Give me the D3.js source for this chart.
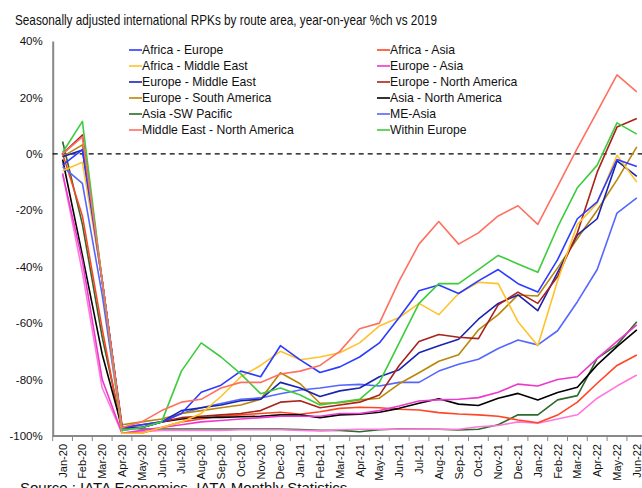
<!DOCTYPE html>
<html>
<head>
<meta charset="utf-8">
<script src="https://cdn.jsdelivr.net/npm/d3@7"></script>
<style>
  body { margin: 0; background: #fff; }
  text { font-family: "Liberation Sans", Arial, sans-serif; fill: #111; }
</style>
</head>
<body>
<div id="chart"></div>
<script>
const months = ["Jan-20", "Feb-20", "Mar-20", "Apr-20", "May-20", "Jun-20", "Jul-20", "Aug-20", "Sep-20", "Oct-20", "Nov-20", "Dec-20",
    "Jan-21", "Feb-21", "Mar-21", "Apr-21", "May-21", "Jun-21", "Jul-21", "Aug-21", "Sep-21", "Oct-21", "Nov-21", "Dec-21",
    "Jan-22", "Feb-22", "Mar-22", "Apr-22", "May-22", "Jun-22"];

const yTicks = [40, 20, 0, -20, -40, -60, -80, -100];

// values, %ch vs 2019
const africaEurope = [-4, 1.5, -45, -97, -96, -95, -92, -84.5, -82, -77, -79, -68, -73, -77.5, -75.5, -72, -67, -58, -48.5, -46.5, -49.5, -45, -41, -46, -49, -37.5, -23, -17, -2, -4.5];
const africaAsia = [0, -22, -62, -99, -99, -97, -95, -94, -93, -92.5, -92, -91.6, -92.3, -91.4, -90.2, -89.8, -90, -90.5, -90.8, -91.7, -92.2, -92.5, -93, -94.3, -95.3, -92.6, -88, -81.3, -75, -71.3];
const africaMiddleEast = [-6, -3, -45, -99, -99, -97, -95, -92, -86, -79, -75, -70, -73, -72, -70.5, -67, -61, -58, -53, -57, -49.5, -45.5, -46, -59.5, -68, -45, -25, -17.5, -0.5, -10];
const europeAsia = [-7, -38, -80, -99, -98, -97, -96, -95, -94.5, -94, -93.5, -93, -93, -93, -92, -92, -91, -89.4, -87.6, -87.2, -87, -86.4, -84.5, -81.6, -82.3, -80, -79, -72.5, -66.5, -60.6];
const europeMiddleEast = [-1, 1.4, -45, -97, -97, -95, -91, -90, -89, -87.5, -87, -81, -83, -86, -84, -83, -79, -76.5, -70.5, -68, -65.7, -58.6, -53, -50, -55.6, -42, -28.7, -23, -2.5, -8];
const europeNorthAmerica = [0, 6.7, -45, -97, -96, -95, -93.5, -93, -92.5, -92, -91, -88, -87.5, -90, -89, -88, -85.5, -75, -66.5, -64, -65, -65.5, -53.5, -49, -53, -43.5, -28, -6.5, 9.5, 12.5];
const europeSouthAmerica = [-1, 3.2, -45, -96, -95, -94, -92, -91, -90, -89, -87, -77.6, -81.5, -88.4, -88.2, -87.2, -86.6, -81.5, -77.6, -73.5, -71.2, -62.4, -57, -50, -50.4, -40.4, -30, -20, -9.2, 2.5];
const asiaNorthAmerica = [-2, -36, -71, -97, -97, -95, -94, -93.4, -93.4, -93.2, -93, -92.5, -92.5, -93.5, -92.5, -92.3, -91.6, -90.2, -88.4, -86.8, -88.7, -89.2, -86.6, -84.9, -87.2, -84.6, -82.7, -74.8, -68.3, -62.4];
const asiaSwPacific = [4.4, -25, -65, -97, -97.5, -97.5, -97.5, -97.5, -97.5, -97.5, -97.5, -97.5, -97.7, -98, -98, -98.5, -97.8, -97.5, -97.5, -97.6, -97.9, -97.6, -96, -92.5, -92.5, -87.2, -85.7, -72.5, -67.7, -59.5];
const meAsia = [-4.5, -10.5, -50, -98, -97, -95, -92, -90, -88.5, -87, -86.5, -85, -83.7, -83, -82, -81.7, -82.3, -81, -81, -77, -74.6, -72.8, -69, -66, -67.7, -62.7, -52.4, -41, -21, -15.6];
const middleEastNorthAmerica = [0, 6, -45, -97, -95, -91, -88, -87, -83, -81, -81, -78, -77, -75, -70, -62, -60, -45, -32, -24, -32, -28, -22, -18.4, -25, -11.5, 2, 15, 28, 22];
const withinEurope = [0.5, 11.5, -45, -98, -97, -95, -77, -67, -72, -78, -85, -83, -85.5, -89, -88, -87, -81, -67, -53, -46, -46, -41, -36, -39, -42, -26, -12, -4, 11, 7];
// pink series drawn in the chart but missing from the legend
const withinAsia = [-7, -42, -83, -99, -98.5, -98, -98, -98, -98, -97.8, -97.8, -97.8, -98, -98.2, -97.8, -97.6, -97.6, -97.6, -97.5, -97.6, -97.6, -96.7, -96.3, -95, -95.5, -94, -92.5, -86.6, -82.3, -78.4];

const series = [
    { name: "Asia -SW Pacific", color: "#2d6a2d", values: asiaSwPacific },
    { name: "Within Asia", color: "#ff78dc", values: withinAsia },
    { name: "Africa - Asia", color: "#ff4524", values: africaAsia },
    { name: "Asia - North America", color: "#000000", values: asiaNorthAmerica },
    { name: "Europe - Asia", color: "#ee38cc", values: europeAsia },
    { name: "ME-Asia", color: "#5566ff", values: meAsia },
    { name: "Europe - South America", color: "#b8860b", values: europeSouthAmerica },
    { name: "Europe - Middle East", color: "#1a22b0", values: europeMiddleEast },
    { name: "Europe - North America", color: "#a8231a", values: europeNorthAmerica },
    { name: "Africa - Middle East", color: "#ffc22a", values: africaMiddleEast },
    { name: "Africa - Europe", color: "#2b3bff", values: africaEurope },
    { name: "Within Europe", color: "#3dcc3d", values: withinEurope },
    { name: "Middle East - North America", color: "#ff7060", values: middleEastNorthAmerica }
];

const legendLeft = ["Africa - Europe", "Africa - Middle East", "Europe - Middle East", "Europe - South America", "Asia -SW Pacific", "Middle East - North America"];
const legendRight = ["Africa - Asia", "Europe - Asia", "Europe - North America", "Asia - North America", "ME-Asia", "Within Europe"];

const width = 642;
const height = 488;
const plotLeft = 52.7;
const plotRight = 646.7;
const plotTop = 41;
const plotBottom = 436;

const svg = d3.select("#chart")
    .append("svg")
    .attr("width", width)
    .attr("height", height);

const x = d3.scaleBand()
    .domain(months)
    .range([plotLeft, plotRight]);

const y = d3.scaleLinear()
    .domain([-100, 40])
    .range([plotBottom, plotTop]);

const px = m => x(m) + x.bandwidth() / 2;

// the title font is narrower than Liberation Sans, so squeeze it to the same width
svg.append("text")
    .attr("x", 15)
    .attr("y", 25)
    .attr("textLength", 422)
    .attr("lengthAdjust", "spacingAndGlyphs")
    .style("font-size", "15px")
    .text("Seasonally adjusted international RPKs by route area, year-on-year %ch vs 2019");

// y axis: line + labels, no tick marks
const yAxis = svg.append("g")
    .attr("transform", "translate(" + plotLeft + ",0)")
    .call(d3.axisLeft(y).tickValues(yTicks).tickSize(0).tickPadding(10).tickFormat(d => d + "%"));
yAxis.select(".domain").attr("stroke", "#888").attr("stroke-width", 2);
yAxis.selectAll("text").style("font-size", "11.5px").style("font-family", "Liberation Sans, Arial, sans-serif").attr("fill", "#111");

// x axis with ticks between the categories
const xAxis = svg.append("g")
    .attr("transform", "translate(0," + plotBottom + ")");
xAxis.append("line")
    .attr("x1", plotLeft)
    .attr("x2", width)
    .attr("stroke", "#888")
    .attr("stroke-width", 2);
xAxis.selectAll("line.tick")
    .data(months)
    .enter()
    .append("line")
    .attr("class", "tick")
    .attr("x1", d => x(d))
    .attr("x2", d => x(d))
    .attr("y1", 0)
    .attr("y2", 5)
    .attr("stroke", "#888");
xAxis.selectAll("text")
    .data(months)
    .enter()
    .append("text")
    .attr("transform", d => "translate(" + (px(d) + 4) + ",8) rotate(-90)")
    .attr("text-anchor", "end")
    .style("font-size", "11px")
    .text(d => d);

// zero line
svg.append("line")
    .attr("x1", plotLeft)
    .attr("x2", width)
    .attr("y1", y(0))
    .attr("y2", y(0))
    .attr("stroke", "#000")
    .attr("stroke-width", 1.3)
    .attr("stroke-dasharray", "5,4");

const line = d3.line()
    .x((d, i) => px(months[i]))
    .y(d => y(d));

svg.append("g")
    .selectAll("path")
    .data(series)
    .enter()
    .append("path")
    .attr("d", d => line(d.values))
    .attr("fill", "none")
    .attr("stroke", d => d.color)
    .attr("stroke-width", 1.6)
    .attr("stroke-linejoin", "round");

const colorOf = name => series.find(s => s.name === name).color;

const drawLegend = (names, lx) => {
    const g = svg.append("g");
    names.forEach((name, i) => {
        const ly = 50 + i * 16;
        g.append("line")
            .attr("x1", lx)
            .attr("x2", lx + 13)
            .attr("y1", ly)
            .attr("y2", ly)
            .attr("stroke", colorOf(name))
            .attr("stroke-width", 1.6);
        g.append("text")
            .attr("x", lx + 13)
            .attr("y", ly)
            .attr("dy", "0.35em")
            .style("font-size", "12.2px")
            .text(name);
    });
};

drawLegend(legendLeft, 129);
drawLegend(legendRight, 377);

svg.append("text")
    .attr("x", 20)
    .attr("y", 493)
    .style("font-size", "15px")
    .text("Source : IATA Economics, IATA Monthly Statistics");
</script>
</body>
</html>
